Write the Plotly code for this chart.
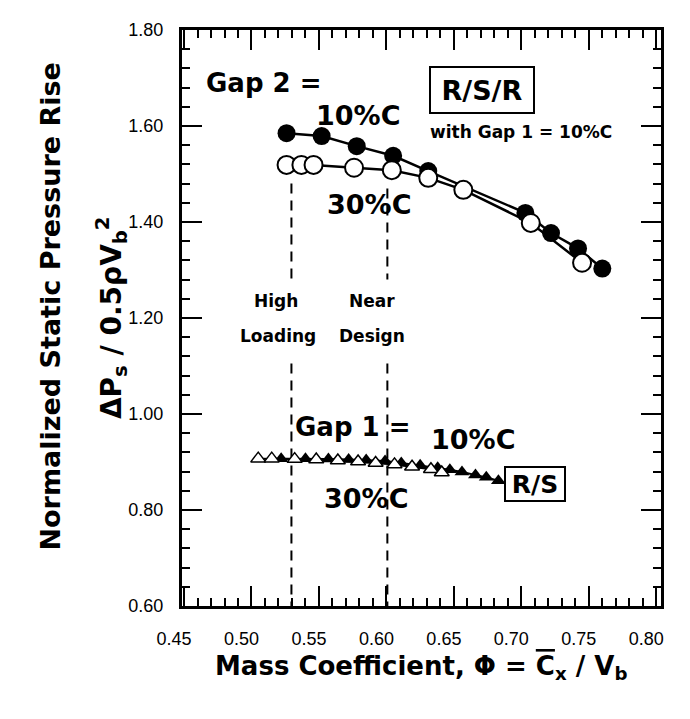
import plotly.graph_objects as go

# R/S/R data (Gap 2)
rsr_gap10_x = [0.526, 0.552, 0.578, 0.605, 0.631, 0.703, 0.722, 0.742, 0.760]
rsr_gap10_y = [1.585, 1.579, 1.558, 1.538, 1.506, 1.419, 1.377, 1.345, 1.303]
rsr_gap30_x = [0.526, 0.537, 0.546, 0.576, 0.604, 0.631, 0.657, 0.707, 0.745]
rsr_gap30_y = [1.519, 1.519, 1.519, 1.513, 1.508, 1.492, 1.467, 1.398, 1.315]

# R/S data (Gap 1)
rs_gap10_x = [0.522, 0.540, 0.557, 0.572, 0.585, 0.599, 0.611, 0.625, 0.638, 0.647, 0.656, 0.666, 0.674, 0.683]
rs_gap10_y = [0.907, 0.907, 0.906, 0.905, 0.904, 0.902, 0.898, 0.893, 0.888, 0.884, 0.879, 0.873, 0.868, 0.861]
rs_gap30_x = [0.505, 0.515, 0.532, 0.548, 0.564, 0.579, 0.592, 0.606, 0.619, 0.633, 0.641]
rs_gap30_y = [0.907, 0.907, 0.906, 0.905, 0.903, 0.901, 0.898, 0.895, 0.890, 0.885, 0.878]

# operating points marked with dashed lines
op_x = [0.5296, 0.6007]
op_top = [1.48, 1.47]
x_ticks = [0.45, 0.50, 0.55, 0.60, 0.65, 0.70, 0.75, 0.80]
y_ticks = [0.60, 0.80, 1.00, 1.20, 1.40, 1.60, 1.80]

BOLD = "DejaVu Sans"
REG = "Arial, Liberation Sans, sans-serif"

fig = go.Figure()

# dashed lines, broken where the High Loading / Near Design labels sit
for xv, top in zip(op_x, op_top):
    for y0, y1 in [(top, 1.28), (1.105, 0.6)]:
        fig.add_trace(go.Scatter(x=[xv, xv], y=[y0, y1], mode="lines",
                                 line=dict(color="black", width=2, dash="10px,7px"),
                                 showlegend=False, hoverinfo="skip"))

fig.add_trace(go.Scatter(x=rsr_gap10_x, y=rsr_gap10_y, mode="lines+markers",
                         line=dict(color="black", width=2.5),
                         marker=dict(symbol="circle", size=18, color="black"),
                         showlegend=False))
fig.add_trace(go.Scatter(x=rsr_gap30_x, y=rsr_gap30_y, mode="lines+markers",
                         line=dict(color="black", width=2.5),
                         marker=dict(symbol="circle", size=18, color="white",
                                     line=dict(color="black", width=2)),
                         showlegend=False))
fig.add_trace(go.Scatter(x=rs_gap10_x, y=rs_gap10_y, mode="lines+markers",
                         line=dict(color="black", width=2),
                         marker=dict(symbol="triangle-up", size=13, color="black"),
                         showlegend=False))
fig.add_trace(go.Scatter(x=rs_gap30_x, y=rs_gap30_y, mode="lines+markers",
                         line=dict(color="black", width=2),
                         marker=dict(symbol="triangle-up", size=13, color="white",
                                     line=dict(color="black", width=1.5)),
                         showlegend=False))


def label(x, y, text, size, **kw):
    fig.add_annotation(x=x, y=y, text=text, showarrow=False,
                       font=dict(family=BOLD, size=size, color="black", weight="bold"),
                       **kw)


label(0.509, 1.69, "Gap 2 =", 26)
label(0.579, 1.621, "10%C", 27)
label(0.587, 1.4375, "30%C", 27)
label(0.671, 1.675, "R/S/R", 27, bordercolor="black", borderwidth=2,
      bgcolor="white", width=100, height=42)
label(0.700, 1.5875, "with Gap 1 = 10%C", 17)
label(0.518, 1.235, "High", 17)
label(0.520, 1.1625, "Loading", 17)
label(0.5896, 1.235, "Near", 17)
label(0.5890, 1.1625, "Design", 17)
label(0.5748, 0.973, "Gap 1 =", 26)
label(0.6644, 0.946, "10%C", 27)
label(0.585, 0.823, "30%C", 27)
label(0.7104, 0.854, "R/S", 25, bordercolor="black", borderwidth=2,
      bgcolor="white", width=56, height=30)

# axis titles
label(0.499, -0.139, "Mass Coefficient, \u03a6 = "
      "<span style='text-decoration:overline'>C</span><sub>x</sub> / V<sub>b</sub>",
      26, xref="paper", yref="paper")
label(-0.312, 0.52, "Normalized Static Pressure Rise", 27,
      xref="paper", yref="paper", textangle=-90)
label(-0.195, 0.5, "\u0394P<sub>s</sub> / 0.5\u03c1V<sub>b</sub><sup>2</sup>", 28,
      xref="paper", yref="paper", textangle=-90)

axis_common = dict(showline=True, linecolor="black", linewidth=3, mirror="allticks",
                   ticks="inside", tickcolor="black", tickwidth=2, ticklen=20,
                   showgrid=False, zeroline=False,
                   tickfont=dict(family=REG, size=18, color="black"))

fig.update_xaxes(range=[0.4485, 0.8035], tickvals=x_ticks,
                 ticktext=[f"{v:.2f}" for v in x_ticks],
                 ticklabelstandoff=14, ticklabelshift=-10,
                 minor=dict(dtick=0.01, ticks="inside", ticklen=8, tickwidth=2,
                            tickcolor="black", showgrid=False),
                 **axis_common)
fig.update_yaxes(range=[0.6, 1.8], tickvals=y_ticks,
                 ticktext=[f"{v:.2f}" for v in y_ticks],
                 ticklabelstandoff=12,
                 minor=dict(dtick=0.04, ticks="inside", ticklen=8, tickwidth=2,
                            tickcolor="black", showgrid=False),
                 **axis_common)

fig.update_layout(width=690, height=719, paper_bgcolor="white", plot_bgcolor="white",
                  margin=dict(l=174, r=37, t=22, b=121), showlegend=False)

fig.write_html("out.html")
